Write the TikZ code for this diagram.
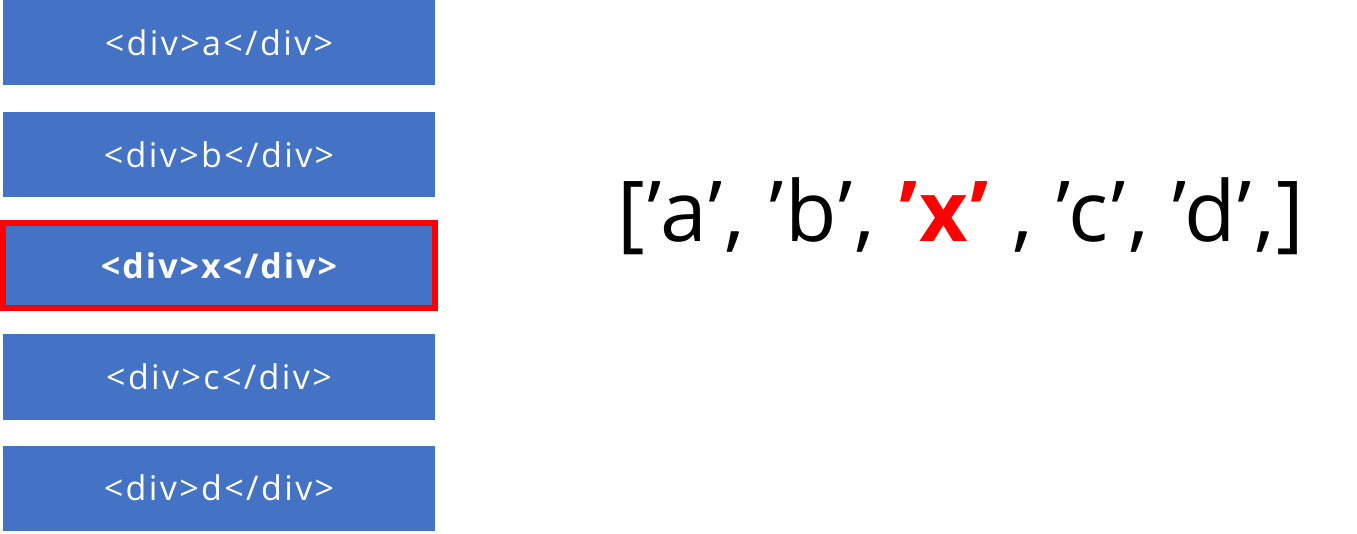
\documentclass[tikz,border=0pt]{standalone}
\usepackage{fontspec}
\setmainfont{Open Sans}
\definecolor{boxblue}{HTML}{4472C4}
\definecolor{hlred}{HTML}{FF0000}
\begin{document}
\begin{tikzpicture}[x=1pt,y=-1pt,
  divbox/.style={rectangle, fill=boxblue, minimum width=432pt, minimum height=85pt, inner sep=0pt,
    text=white, font=\fontsize{34}{38}\selectfont\addfontfeature{LetterSpace=7}},
  hlbox/.style={divbox, draw=hlred, line width=6pt, font=\fontsize{34}{38}\selectfont\bfseries\addfontfeature{LetterSpace=6}}]
\useasboundingbox (0,0) rectangle (1357,534);
\node[divbox] (a) at (219,43) {<div>a</div>};
\node[divbox] (b) at (219,154.5) {<div>b</div>};
\node[hlbox] (x) at (219,265.5) {<div>x</div>};
\node[divbox] (c) at (219,377) {<div>c</div>};
\node[divbox] (d) at (219,488) {<div>d</div>};
\node[anchor=base, inner sep=0pt, font=\fontsize{84}{94}\selectfont\addfontfeature{LetterSpace=2.5}] (arr) at (961,242)
  {[’a’, ’b’, {\color{hlred}\bfseries ’x’} , ’c’, ’d’,]};
\end{tikzpicture}
\end{document}
